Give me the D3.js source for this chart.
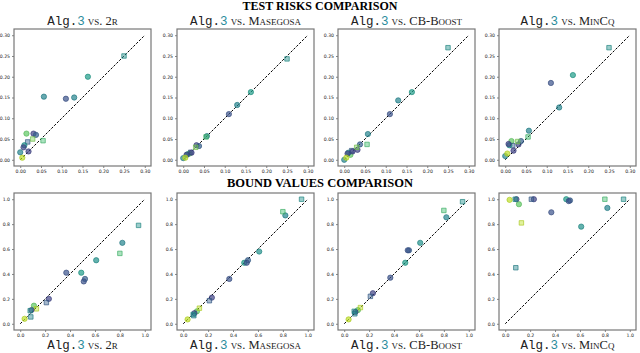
<!DOCTYPE html>
<html>
<head>
<meta charset="utf-8">
<script src="https://cdn.jsdelivr.net/npm/d3@7"></script>
<style>
  body { margin: 0; background: #fff; }
  svg { display: block; }
  .tick text { font-family: "DejaVu Sans", sans-serif; font-size: 4.6px; fill: #222; }
  .tick line { stroke: #333; stroke-width: 0.6; }
</style>
</head>
<body>
<div id="chart"></div>
<script>
// methods compared against Alg.3
const methods = ["2r", "Masegosa", "CB-Boost", "MinCq"];
const riskTicks = [0, 0.05, 0.10, 0.15, 0.20, 0.25, 0.30];
const boundTicks = [0, 0.2, 0.4, 0.6, 0.8, 1.0];

// per dataset colour (viridis position) and marker shape
const riskColor = [0.5, 0.55, 0.45, 0.25, 0.45, 0.75, 0.2, 0.3, 0.3, 0.8, 0.7, 0.5, 0.2, 0.45, 0.2, 0.9];
const riskShape = ["s", "c", "c", "c", "c", "c", "c", "c", "s", "s", "s", "c", "c", "c", "c", "c"];

// test risks (x = Alg.3)
const alg3Risk     = [0.250, 0.163, 0.057, 0.110, 0.130, 0.015, 0.032, 0.038, 0.018, 0.030, 0.055, 0.010, 0.008, 0.000, 0.020, 0.005];
const risk2R       = [0.250, 0.200, 0.152, 0.147, 0.150, 0.063, 0.063, 0.060, 0.043, 0.050, 0.046, 0.035, 0.030, 0.018, 0.020, 0.005];
const riskMasegosa = [0.243, 0.163, 0.057, 0.110, 0.132, 0.015, 0.035, 0.033, 0.018, 0.030, 0.055, 0.013, 0.012, 0.004, 0.017, 0.005];
const riskCBBoost  = [0.270, 0.163, 0.062, 0.110, 0.143, 0.012, 0.024, 0.037, 0.022, 0.030, 0.037, 0.017, 0.015, 0.000, 0.020, 0.005];
const riskMinCq    = [0.270, 0.204, 0.070, 0.185, 0.126, 0.045, 0.037, 0.045, 0.034, 0.044, 0.055, 0.035, 0.038, 0.009, 0.022, 0.015];

const boundColor = [0.5, 0.45, 0.7, 0.5, 0.55, 0.25, 0.3, 0.25, 0.2, 0.3, 0.75, 0.9, 0.2, 0.5, 0.45, 0.9];
const boundShape = ["s", "c", "s", "c", "c", "c", "c", "c", "c", "s", "c", "s", "c", "s", "s", "c"];

// bound values (x = Alg.3)
const alg3Bound     = [0.95, 0.82, 0.80, 0.61, 0.49, 0.37, 0.52, 0.51, 0.23, 0.21, 0.11, 0.13, 0.09, 0.08, 0.085, 0.035];
const bound2R       = [0.79, 0.65, 0.565, 0.51, 0.41, 0.41, 0.36, 0.34, 0.20, 0.17, 0.145, 0.12, 0.11, 0.105, 0.055, 0.04];
const boundMasegosa = [1.00, 0.87, 0.90, 0.58, 0.49, 0.36, 0.51, 0.49, 0.21, 0.185, 0.10, 0.125, 0.085, 0.075, 0.065, 0.035];
const boundCBBoost  = [0.98, 0.855, 0.91, 0.65, 0.49, 0.37, 0.59, 0.59, 0.245, 0.22, 0.11, 0.13, 0.095, 0.10, 0.08, 0.035];
const boundMinCq    = [1.00, 0.93, 1.00, 0.78, 1.00, 0.895, 0.99, 0.985, 1.00, 1.00, 0.96, 0.81, 1.00, 1.00, 0.45, 0.995];

const width = 640, height = 353;
const panelSize = 137;
const panelLefts = [14, 177, 338, 499];

const svg = d3.select("#chart").append("svg")
    .attr("width", width)
    .attr("height", height);

// section titles
svg.append("text")
    .attr("x", 320).attr("y", 9.5)
    .attr("text-anchor", "middle")
    .style("font-family", "Liberation Serif, serif")
    .style("font-weight", "bold")
    .style("font-size", "12px")
    .text("TEST RISKS COMPARISON");
svg.append("text")
    .attr("x", 320).attr("y", 187)
    .attr("text-anchor", "middle")
    .style("font-family", "Liberation Serif, serif")
    .style("font-weight", "bold")
    .style("font-size", "12.5px")
    .text("BOUND VALUES COMPARISON");

function subtitle(cx, y, name) {
    const t = svg.append("text")
        .attr("x", cx).attr("y", y)
        .attr("text-anchor", "middle")
        .style("font-size", "12.5px")
        .attr("fill", "#222");
    t.append("tspan").style("font-family", "Liberation Mono, monospace").text("Alg.");
    t.append("tspan").style("font-family", "Liberation Mono, monospace").attr("fill", "#2b8c9b").text("3");
    t.append("tspan").style("font-family", "Liberation Serif, serif").style("font-variant", "small-caps").text(" vs. ");
    t.append("tspan").style("font-family", "Liberation Serif, serif").style("font-variant", "small-caps").text(name);
}

function panel(left, top, xs, ys, colors, shapes, maxV, ticks, fmt) {
    const pad = maxV * 0.05;
    const x = d3.scaleLinear().domain([-pad, maxV + pad]).range([left, left + panelSize]);
    const y = d3.scaleLinear().domain([-pad, maxV + pad]).range([top + panelSize, top]);

    svg.append("g")
        .attr("transform", `translate(0,${top + panelSize})`)
        .call(d3.axisBottom(x).tickValues(ticks).tickFormat(d3.format(fmt)).tickSize(2).tickPadding(2))
        .call(g => g.select(".domain").remove());
    svg.append("g")
        .attr("transform", `translate(${left},0)`)
        .call(d3.axisLeft(y).tickValues(ticks).tickFormat(d3.format(fmt)).tickSize(2).tickPadding(2))
        .call(g => g.select(".domain").remove());

    // diagonal y = x
    svg.append("line")
        .attr("x1", x(0)).attr("y1", y(0))
        .attr("x2", x(maxV)).attr("y2", y(maxV))
        .attr("stroke", "#000")
        .attr("stroke-width", 1)
        .attr("stroke-dasharray", "2.5,1.5");

    const pts = xs.map((v, i) => ({x: v, y: ys[i], c: colors[i], s: shapes[i]}));
    svg.append("g").selectAll("path")
        .data(pts)
        .enter()
        .append("path")
            .attr("transform", d => `translate(${x(d.x)},${y(d.y)})`)
            .attr("d", d => d3.symbol().type(d.s === "s" ? d3.symbolSquare : d3.symbolCircle).size(d.s === "s" ? 20 : 22)())
            .attr("fill", d => d3.interpolateViridis(d.c))
            .attr("fill-opacity", d => d.s === "s" ? 0.45 : 0.7)
            .attr("stroke", d => d3.color(d3.interpolateViridis(d.c)).darker(0.3))
            .attr("stroke-opacity", 0.85)
            .attr("stroke-width", 0.8);

    // frame
    svg.append("rect")
        .attr("x", left).attr("y", top)
        .attr("width", panelSize).attr("height", panelSize)
        .attr("fill", "none")
        .attr("stroke", "#777")
        .attr("stroke-width", 1.2);
}

const riskSeries = [risk2R, riskMasegosa, riskCBBoost, riskMinCq];
const boundSeries = [bound2R, boundMasegosa, boundCBBoost, boundMinCq];

methods.forEach((m, i) => {
    const left = panelLefts[i];
    panel(left, 29, alg3Risk, riskSeries[i], riskColor, riskShape, 0.30, riskTicks, ".2f");
    panel(left, 193, alg3Bound, boundSeries[i], boundColor, boundShape, 1.0, boundTicks, ".1f");
    subtitle(left + panelSize / 2, 24.5, m);
    subtitle(left + panelSize / 2, 349, m);
});
</script>
</body>
</html>
